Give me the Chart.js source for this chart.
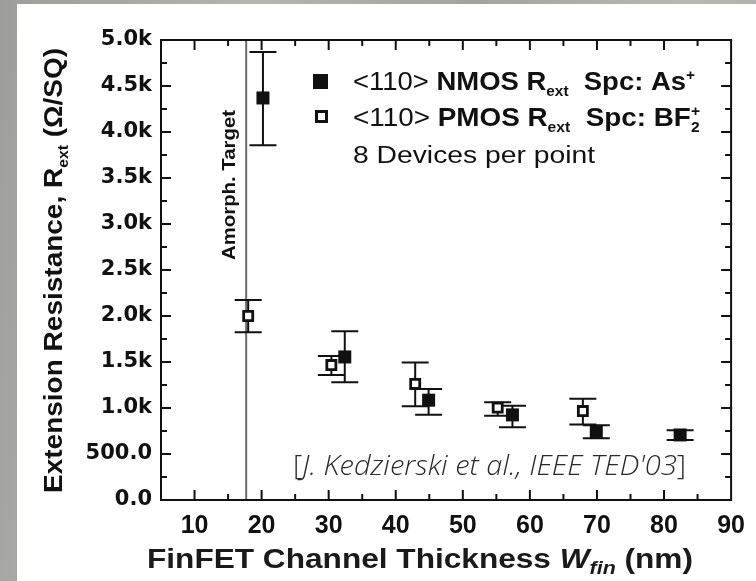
<!DOCTYPE html>
<html>
<head>
<meta charset="utf-8">
<script src="https://cdn.jsdelivr.net/npm/chart.js@4.4.0/dist/chart.umd.min.js"></script>
<style>
  html, body { margin: 0; padding: 0; }
  body {
    width: 756px; height: 581px; overflow: hidden;
    background: linear-gradient(100deg, #9d9e99 0%, #b4b5b0 30%, #a3a49f 55%, #b7b8b3 80%, #a6a7a2 100%);
  }
  #wrap { position: absolute; left: 17px; top: 4px; width: 739px; height: 577px; background: #fff; }
</style>
</head>
<body>
<div id="wrap"><canvas id="chart" width="739" height="577"></canvas></div>
<script>
// data (W_fin in nm, R_ext in ohm/sq)
const nmosW = [20.2, 32.4, 44.9, 57.4, 69.9, 82.4];
const nmosR = [4370, 1555, 1085, 925, 738, 707];
const nmosHi = [4870, 1835, 1207, 1025, 812, 757];
const nmosLo = [3855, 1280, 926, 792, 670, 652];

const pmosW = [18.0, 30.4, 42.9, 55.2, 67.9];
const pmosR = [2000, 1467, 1261, 1004, 967];
const pmosHi = [2174, 1565, 1494, 1062, 1100];
const pmosLo = [1823, 1359, 1020, 915, 820];

const amorphW = 17.7;

const xTickValues = [10, 20, 30, 40, 50, 60, 70, 80, 90];
const xTickLabels = ["10", "20", "30", "40", "50", "60", "70", "80", "90"];
const yTickValues = [0, 500, 1000, 1500, 2000, 2500, 3000, 3500, 4000, 4500, 5000];
const yTickLabels = ["0.0", "500.0", "1.0k", "1.5k", "2.0k", "2.5k", "3.0k", "3.5k", "4.0k", "4.5k", "5.0k"];

const INK = "#111";
const BOLD = (s) => `bold ${s}px "Liberation Sans", Arial, sans-serif`;
const REG = (s) => `${s}px "Liberation Sans", Arial, sans-serif`;
const CITE = (st) => `${st} 300 28px "Open Sans", "Liberation Sans", sans-serif`;

// draws text runs (mixed fonts, sub/superscripts) stretched to a given width
function drawRuns(ctx, runs, x, y, width) {
  let natural = 0;
  runs.forEach(r => {
    ctx.font = r.f;
    r.w = ctx.measureText(r.t).width;
    if (!r.stay) natural += r.w;
  });
  const sx = width ? width / natural : 1;
  ctx.save();
  ctx.translate(x, y);
  ctx.scale(sx, 1);
  let cx = 0;
  runs.forEach(r => {
    ctx.font = r.f;
    ctx.fillText(r.t, cx, r.dy || 0);
    if (!r.stay) cx += r.w;
  });
  ctx.restore();
}

const xy = (xs, ys) => xs.map((v, i) => ({ x: v, y: ys[i] }));

// error bars + amorphization line, under the markers
const underlay = {
  id: "underlay",
  beforeDatasetsDraw(chart) {
    const { ctx, chartArea: a, scales: { x, y } } = chart;
    ctx.save();
    // amorph target line
    const ax = x.getPixelForValue(amorphW);
    ctx.strokeStyle = "#6a6a6a";
    ctx.lineWidth = 2;
    ctx.beginPath();
    ctx.moveTo(ax, a.top);
    ctx.lineTo(ax, a.bottom);
    ctx.stroke();

    ctx.strokeStyle = INK;
    ctx.lineWidth = 2;
    chart.data.datasets.forEach(ds => {
      ds.data.forEach((p, i) => {
        const px = x.getPixelForValue(p.x);
        const top = y.getPixelForValue(ds.errHi[i]);
        const bot = y.getPixelForValue(ds.errLo[i]);
        ctx.beginPath();
        ctx.moveTo(px, top); ctx.lineTo(px, bot);
        ctx.moveTo(px - 13.5, top); ctx.lineTo(px + 13.5, top);
        ctx.moveTo(px - 13.5, bot); ctx.lineTo(px + 13.5, bot);
        ctx.stroke();
      });
    });
    ctx.restore();
  }
};

// frame with inward ticks on all sides, legend and annotations
const overlay = {
  id: "overlay",
  afterDraw(chart) {
    const { ctx, chartArea: a, scales: { x, y } } = chart;
    ctx.save();
    ctx.strokeStyle = INK;
    ctx.lineWidth = 2;
    ctx.strokeRect(a.left, a.top, a.right - a.left, a.bottom - a.top);
    ctx.beginPath();
    for (let v = 10; v < 90; v += 5) {
      const px = x.getPixelForValue(v);
      const len = v % 10 === 0 ? 10 : 6;
      ctx.moveTo(px, a.bottom); ctx.lineTo(px, a.bottom - len);
      ctx.moveTo(px, a.top); ctx.lineTo(px, a.top + len);
    }
    for (let v = 250; v < 5000; v += 250) {
      const py = y.getPixelForValue(v);
      const len = v % 500 === 0 ? 10 : 6;
      ctx.moveTo(a.left, py); ctx.lineTo(a.left + len, py);
      ctx.moveTo(a.right, py); ctx.lineTo(a.right - len, py);
    }
    ctx.stroke();

    ctx.fillStyle = INK;
    ctx.textBaseline = "alphabetic";
    ctx.textAlign = "left";

    // legend
    ctx.fillRect(296, 70, 15, 15);
    ctx.fillStyle = "#fff";
    ctx.fillRect(298, 106, 12, 12);
    ctx.strokeStyle = INK;
    ctx.lineWidth = 3;
    ctx.strokeRect(299.5, 107.5, 10, 10);
    ctx.fillStyle = INK;
    drawRuns(ctx, [
      { t: "<110> ", f: REG(25) },
      { t: "NMOS R", f: BOLD(25) },
      { t: "ext", f: BOLD(14), dy: 6 },
      { t: "  Spc: As", f: BOLD(25) },
      { t: "+", f: BOLD(14), dy: -10 }
    ], 336, 86, 342);
    drawRuns(ctx, [
      { t: "<110> ", f: REG(25) },
      { t: "PMOS R", f: BOLD(25) },
      { t: "ext", f: BOLD(14), dy: 6 },
      { t: "  Spc: BF", f: BOLD(25) },
      { t: "2", f: BOLD(14), dy: 6, stay: true },
      { t: "+", f: BOLD(14), dy: -10 }
    ], 336, 122, 347);
    drawRuns(ctx, [{ t: "8 Devices per point", f: REG(23) }], 336, 159, 242);

    // citation
    ctx.fillStyle = "#2a2a2a";
    drawRuns(ctx, [
      { t: "[", f: CITE("normal") },
      { t: "J. Kedzierski et al., IEEE TED'03", f: CITE("italic") },
      { t: "]", f: CITE("normal") }
    ], 276, 471, 393);

    // x axis title
    ctx.fillStyle = "#1a1a1a";
    drawRuns(ctx, [
      { t: "FinFET Channel Thickness ", f: BOLD(28) },
      { t: "W", f: "italic " + BOLD(28) },
      { t: "fin", f: "italic " + BOLD(19), dy: 6 },
      { t: " (nm)", f: BOLD(28) }
    ], 130, 564, 546);

    // y axis title
    ctx.fillStyle = INK;
    ctx.save();
    ctx.translate(45, 489);
    ctx.rotate(-Math.PI / 2);
    drawRuns(ctx, [
      { t: "Extension Resistance, R", f: BOLD(25) },
      { t: "ext", f: BOLD(14), dy: 6 },
      { t: " (\u03A9/SQ)", f: BOLD(25) }
    ], 0, 0, 445);
    ctx.restore();

    // amorphization label
    ctx.save();
    ctx.translate(x.getPixelForValue(amorphW) - 11, 256);
    ctx.rotate(-Math.PI / 2);
    drawRuns(ctx, [{ t: "Amorph. Target", f: BOLD(18) }], 0, 0, 150);
    ctx.restore();

    ctx.restore();
  }
};

new Chart(document.getElementById("chart"), {
  type: "scatter",
  data: {
    datasets: [
      {
        label: "<110> NMOS Rext Spc: As+",
        data: xy(nmosW, nmosR),
        errHi: nmosHi, errLo: nmosLo,
        pointStyle: "rect",
        pointRadius: 9.2,
        backgroundColor: INK,
        borderColor: INK,
        borderWidth: 0
      },
      {
        label: "<110> PMOS Rext Spc: BF2+",
        data: xy(pmosW, pmosR),
        errHi: pmosHi, errLo: pmosLo,
        pointStyle: "rect",
        pointRadius: 6.4,
        backgroundColor: "#fff",
        borderColor: INK,
        borderWidth: 2.8
      }
    ]
  },
  options: {
    responsive: false,
    animation: false,
    layout: { padding: { left: 0, top: 36, right: 20, bottom: 0 } },
    plugins: { legend: { display: false }, tooltip: { enabled: false } },
    scales: {
      x: {
        type: "linear", min: 5, max: 90,
        grid: { display: false, drawTicks: false },
        border: { display: false },
        afterBuildTicks: (s) => { s.ticks = xTickValues.map(v => ({ value: v })); },
        afterFit: (s) => { s.height = 81; },
        ticks: {
          padding: 11,
          color: INK,
          font: { family: "Liberation Sans", weight: "bold", size: 25 },
          callback: (v) => xTickLabels[xTickValues.indexOf(v)]
        }
      },
      y: {
        type: "linear", min: 0, max: 5000,
        grid: { display: false, drawTicks: false },
        border: { display: false },
        afterBuildTicks: (s) => { s.ticks = yTickValues.map(v => ({ value: v })); },
        afterFit: (s) => { s.width = 144; },
        ticks: {
          padding: 9,
          color: INK,
          font: { family: "DejaVu Sans", weight: "bold", size: 21 },
          callback: (v) => yTickLabels[yTickValues.indexOf(v)]
        }
      }
    }
  },
  plugins: [underlay, overlay]
});
</script>
</body>
</html>
